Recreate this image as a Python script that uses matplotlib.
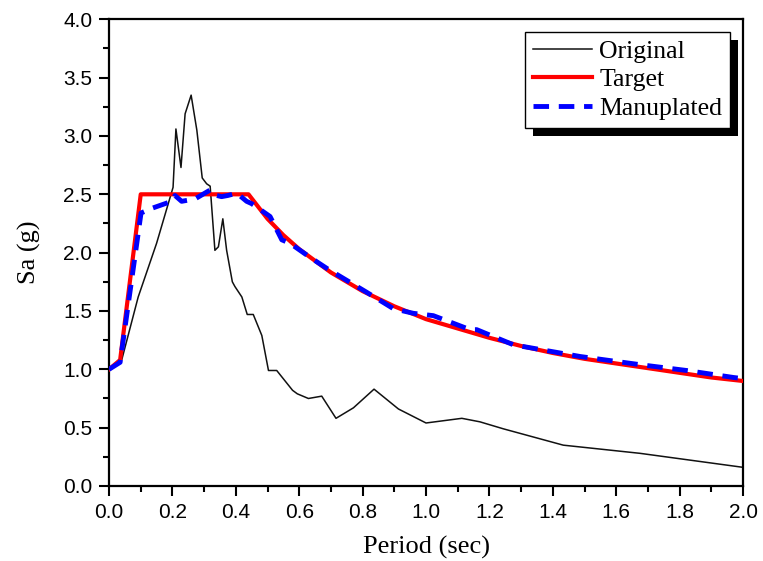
import matplotlib
matplotlib.use("Agg")
import matplotlib.pyplot as plt
from matplotlib.patches import Rectangle
from matplotlib.transforms import IdentityTransform
from matplotlib.ticker import MultipleLocator

# Original record spectrum
orig_T = [0.0, 0.04, 0.092, 0.15, 0.202, 0.211, 0.227, 0.24, 0.259, 0.277, 0.294,
          0.308, 0.319, 0.334, 0.345, 0.359, 0.371, 0.389, 0.397, 0.419, 0.436,
          0.455, 0.482, 0.503, 0.529, 0.579, 0.594, 0.629, 0.671, 0.716, 0.771,
          0.836, 0.913, 1.0, 1.113, 1.17, 1.244, 1.433, 1.675, 2.0]
orig_Sa = [1.0, 1.08, 1.62, 2.08, 2.56, 3.06, 2.73, 3.19, 3.35, 3.05, 2.64,
           2.59, 2.57, 2.02, 2.05, 2.29, 2.02, 1.75, 1.71, 1.62, 1.47,
           1.47, 1.29, 0.99, 0.99, 0.82, 0.79, 0.75, 0.77, 0.58, 0.67,
           0.83, 0.66, 0.54, 0.58, 0.55, 0.49, 0.35, 0.28, 0.16]

# Target design spectrum
targ_T = [0.0, 0.035, 0.1, 0.44, 0.5, 0.55, 0.6, 0.65, 0.7, 0.8, 0.9, 1.0,
          1.1, 1.2, 1.3, 1.4, 1.5, 1.6, 1.7, 1.8, 1.9, 2.0]
targ_Sa = [1.0, 1.08, 2.5, 2.5, 2.29, 2.15, 2.03, 1.93, 1.83, 1.67, 1.54, 1.43,
           1.35, 1.27, 1.20, 1.14, 1.09, 1.05, 1.01, 0.97, 0.93, 0.90]

# Manipulated spectrum
man_T = [0.0, 0.035, 0.101, 0.135, 0.198, 0.208, 0.229, 0.271, 0.321, 0.34,
         0.355, 0.375, 0.403, 0.434, 0.45, 0.508, 0.545, 0.571, 0.634, 0.69,
         0.813, 0.897, 0.96, 1.023, 1.139, 1.16, 1.276, 1.486, 1.675, 1.822,
         1.97, 2.0]
man_Sa = [1.0, 1.06, 2.34, 2.38, 2.44, 2.49, 2.44, 2.46, 2.54, 2.49,
          2.48, 2.49, 2.51, 2.44, 2.42, 2.31, 2.11, 2.08, 1.96, 1.86,
          1.66, 1.52, 1.48, 1.46, 1.34, 1.34, 1.21, 1.11, 1.04, 0.99,
          0.93, 0.92]

x_ticks = [0.0, 0.2, 0.4, 0.6, 0.8, 1.0, 1.2, 1.4, 1.6, 1.8, 2.0]
y_ticks = [0.0, 0.5, 1.0, 1.5, 2.0, 2.5, 3.0, 3.5, 4.0]

fig = plt.figure(figsize=(7.63, 5.61), dpi=100)
ax = fig.add_axes([0.1429, 0.1337, 0.9738 - 0.1429, 0.9656 - 0.1337])

ax.plot(orig_T, orig_Sa, color='#111111', lw=1.1, label='Original', zorder=2)
ax.plot(targ_T, targ_Sa, color='#ff0000', lw=3.0, label='Target', zorder=3)
ax.plot(man_T, man_Sa, color='#0000ff', lw=3.5, ls=(0, (3.2, 2.0)),
        label='Manuplated', zorder=4)

ax.set_xlim(0, 2.0)
ax.set_ylim(0, 4.0)
ax.set_xticks(x_ticks)
ax.set_yticks(y_ticks)
ax.set_xticklabels([f"{v:.1f}" for v in x_ticks])
ax.set_yticklabels([f"{v:.1f}" for v in y_ticks])
ax.xaxis.set_minor_locator(MultipleLocator(0.1))
ax.yaxis.set_minor_locator(MultipleLocator(0.25))
ax.tick_params(which='major', direction='out', length=7, width=1.5,
               labelsize=15, pad=5)
ax.tick_params(which='minor', direction='out', length=4.5, width=1.5)
for lab in ax.get_xticklabels() + ax.get_yticklabels():
    lab.set_family('Liberation Sans')
for sp in ax.spines.values():
    sp.set_linewidth(1.6)

ax.set_xlabel('Period (sec)', family='Liberation Serif', fontsize=19, labelpad=10)
ax.set_ylabel('Sa (g)', family='Liberation Serif', fontsize=19, labelpad=16)

leg = ax.legend(loc='upper right', prop={'family': 'Liberation Serif', 'size': 18.5},
                fancybox=False, edgecolor='black', framealpha=1,
                handlelength=2.3, handletextpad=0.3, labelspacing=0.22,
                borderpad=0.3, borderaxespad=0.5)
leg.get_frame().set_linewidth(1.0)

fig.canvas.draw()
bb = leg.get_window_extent()
shadow = Rectangle((bb.x0 + 8, bb.y0 - 8), bb.width, bb.height,
                   transform=IdentityTransform(), facecolor='black',
                   edgecolor='none', zorder=4.9, clip_on=False)
ax.add_artist(shadow)

fig.savefig('out.png', dpi=100)
